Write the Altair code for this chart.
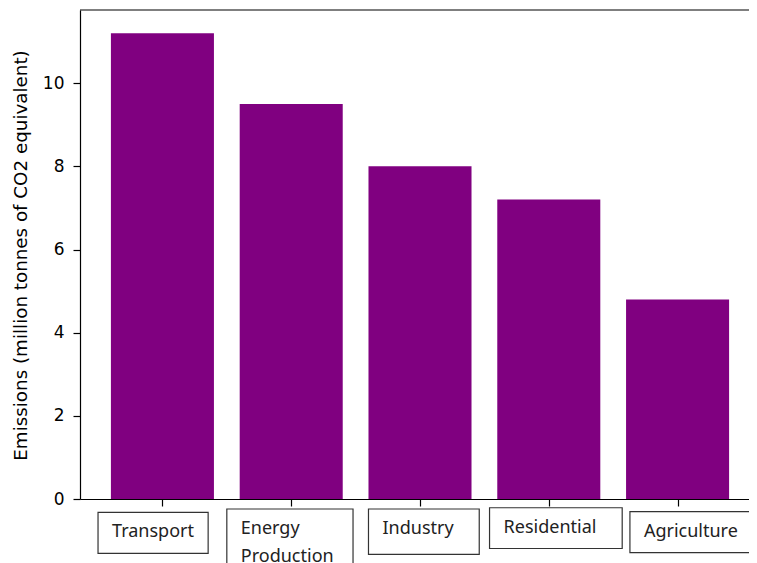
import altair as alt
import pandas as pd

# --- data -----------------------------------------------------------------
sectors = ["Transport", "Energy Production", "Industry", "Residential", "Agriculture"]
emissions = [11.2, 9.5, 8.0, 7.2, 4.8]
y_ticks = [0, 2, 4, 6, 8, 10]
y_title = "Emissions (million tonnes of CO2 equivalent)"

# label boxes drawn under the axis (text as shown in the boxes)
box_labels = ["Transport", "Energy\nProduction", "Industry", "Residential", "Agriculture"]

# annotation layout of the boxes (axis units, relative to category index)
box_left_off = [-0.50, -0.50, -0.40, -0.46, -0.37]
box_right_off = [0.355, 0.48, 0.46, 0.57, 0.56]
box_top = [-0.32, -0.24, -0.24, -0.21, -0.305]
box_bottom = [-1.31, -2.2, -1.33, -1.19, -1.29]

idx = list(range(len(sectors)))
bars_df = pd.DataFrame({"idx": idx, "sector": sectors, "value": emissions})
boxes_df = pd.DataFrame({
    "idx": idx,
    "label": box_labels,
    "loff": box_left_off,
    "roff": box_right_off,
    "top": box_top,
    "bottom": box_bottom,
})

x_scale = alt.Scale(domain=[-0.64, 4.64], range=[0, 680], nice=False, zero=False)
y_scale = alt.Scale(domain=[0, 11.76], nice=False)

x_axis = alt.Axis(values=idx, labels=False, tickSize=7, tickWidth=1.2, tickColor="black",
                  domainColor="black", domainWidth=1.2, grid=False, title=None)
y_axis = alt.Axis(values=y_ticks, tickSize=7, tickWidth=1.2, tickColor="black",
                  domainColor="black", domainWidth=1.2, grid=False,
                  labelFont="DejaVu Sans", labelFontSize=17, labelColor="black",
                  labelPadding=9,
                  title=y_title, titleFont="DejaVu Sans", titleFontSize=18.3,
                  titleFontWeight="normal", titleColor="black",
                  titleX=-59, titleY=245, titleAngle=270,
                  titleAlign="center", titleBaseline="middle")

bars = alt.Chart(bars_df).transform_calculate(
    x0="datum.idx - 0.4", x1="datum.idx + 0.4"
).mark_bar(color="#800080").encode(
    x=alt.X("x0:Q", scale=x_scale, axis=x_axis),
    x2="x1:Q",
    y=alt.Y("value:Q", scale=y_scale, axis=y_axis),
    y2=alt.datum(0),
)

top_rule = alt.Chart(pd.DataFrame({"a": [0]})).mark_rule(
    color="black", strokeWidth=1.2
).encode(x=alt.value(0), x2=alt.value(680), y=alt.value(0))

boxes = alt.Chart(boxes_df).transform_calculate(
    bl="datum.idx + datum.loff", br="datum.idx + datum.roff"
).mark_rect(fill="white", stroke="#333333", strokeWidth=1.2).encode(
    x=alt.X("bl:Q", scale=x_scale, axis=x_axis),
    x2="br:Q",
    y=alt.Y("top:Q", scale=y_scale, axis=y_axis),
    y2="bottom:Q",
)

texts = alt.Chart(boxes_df).transform_calculate(
    bl="datum.idx + datum.loff"
).mark_text(
    align="left", baseline="alphabetic", dx=14, dy=25, fontSize=18,
    font="Noto Sans", color="#222222", lineBreak="\n", lineHeight=28
).encode(
    x=alt.X("bl:Q", scale=x_scale, axis=x_axis),
    y=alt.Y("top:Q", scale=y_scale, axis=y_axis),
    text="label:N",
)

chart = alt.layer(bars, top_rule, boxes, texts).properties(
    width=669,
    height=489,
    padding={"left": 72, "top": 2, "right": 0, "bottom": 64},
    autosize=alt.AutoSizeParams(type="none"),
    background="white",
).configure_view(strokeWidth=0)

chart.save("out.html", embed_options={"renderer": "svg", "actions": False})
